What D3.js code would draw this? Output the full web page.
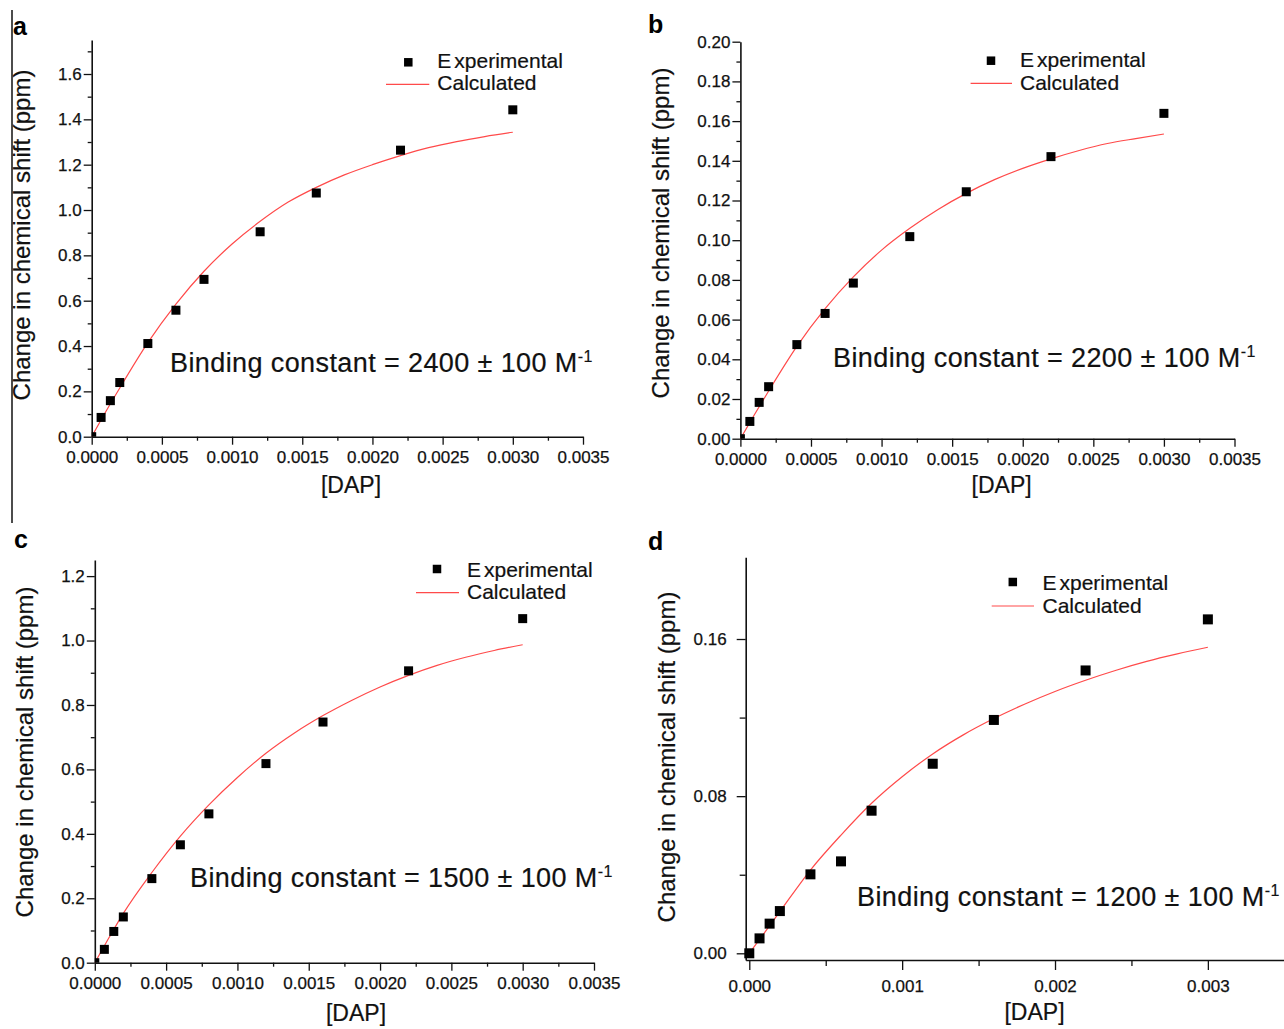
<!DOCTYPE html>
<html>
<head>
<meta charset="utf-8">
<script src="https://cdn.jsdelivr.net/npm/d3@7/dist/d3.min.js"></script>
<style>
  html, body { margin: 0; padding: 0; background: #fff; }
  svg { display: block; font-family: "Liberation Sans", Arial, Helvetica, sans-serif; }
</style>
</head>
<body>
<svg id="fig" width="1284" height="1029"></svg>
<script>
// ---------------- DATA ----------------
const panelLetters = ["a", "b", "c", "d"];
const bindingLabels = ["2400", "2200", "1500", "1200"];
const yTitle = "Change in chemical shift (ppm)";
const xTitle = "[DAP]";
const legendLabels = ["Experimental", "Calculated"];

// DAP concentrations of experimental points (M)
const dapExp = [0, 0.000067, 0.000133, 0.0002, 0.0004, 0.0006, 0.0008, 0.0012, 0.0016, 0.0022, 0.003];
// Experimental chemical shift changes (ppm)
const expA = [0, 0.085, 0.159, 0.239, 0.411, 0.558, 0.694, 0.904, 1.075, 1.264, 1.442];
const expB = [0, 0.0087, 0.0183, 0.0262, 0.0474, 0.0631, 0.0784, 0.1018, 0.1244, 0.1421, 0.1639];
const expC = [0, 0.0414, 0.097, 0.142, 0.261, 0.366, 0.462, 0.618, 0.747, 0.906, 1.068];
const expD = [0, 0.0076, 0.0151, 0.0215, 0.0402, 0.0468, 0.0726, 0.0965, 0.1188, 0.144, 0.170];

// Calculated curves
const dapCalc = [0, 0.0001, 0.0002, 0.0004, 0.0006, 0.0008, 0.001, 0.0012, 0.0014, 0.0016, 0.0018, 0.002, 0.0022, 0.0024, 0.0026, 0.0028, 0.003];
const calcA = [0, 0.11, 0.215, 0.415, 0.585, 0.73, 0.85, 0.95, 1.035, 1.1, 1.155, 1.2, 1.24, 1.275, 1.302, 1.324, 1.343];
const calcB = [0, 0.0122, 0.024, 0.0465, 0.0655, 0.0815, 0.095, 0.106, 0.1155, 0.1236, 0.1305, 0.1362, 0.141, 0.1452, 0.1487, 0.1512, 0.1535];
const calcC = [0, 0.078, 0.153, 0.28, 0.393, 0.49, 0.575, 0.65, 0.713, 0.767, 0.814, 0.856, 0.892, 0.923, 0.948, 0.969, 0.987];
const calcD = [0, 0.0105, 0.0212, 0.0424, 0.0602, 0.0764, 0.0899, 0.1015, 0.1112, 0.1195, 0.1268, 0.1333, 0.139, 0.1441, 0.1486, 0.1524, 0.1558];

// Tick values
const xMajorABC = [0, 0.0005, 0.001, 0.0015, 0.002, 0.0025, 0.003, 0.0035];
const xMinorABC = [0.00025, 0.00075, 0.00125, 0.00175, 0.00225, 0.00275, 0.00325];
const yMajorA = [0, 0.2, 0.4, 0.6, 0.8, 1.0, 1.2, 1.4, 1.6];
const yMinorA = [0.1, 0.3, 0.5, 0.7, 0.9, 1.1, 1.3, 1.5, 1.7];
const yMajorB = [0, 0.02, 0.04, 0.06, 0.08, 0.10, 0.12, 0.14, 0.16, 0.18, 0.20];
const yMinorB = [0.01, 0.03, 0.05, 0.07, 0.09, 0.11, 0.13, 0.15, 0.17, 0.19];
const yMajorC = [0, 0.2, 0.4, 0.6, 0.8, 1.0, 1.2];
const yMinorC = [0.1, 0.3, 0.5, 0.7, 0.9, 1.1];
const xMajorD = [0, 0.001, 0.002, 0.003];
const xMinorD = [0.0005, 0.0015, 0.0025];
const yMajorD = [0, 0.08, 0.16];
const yMinorD = [0.04, 0.12];

// ---------------- LAYOUT ----------------
const panels = [
  { letter: panelLetters[0], exp: expA, calc: calcA, kLabel: bindingLabels[0],
    xDom: [0, 0.0035], xRange: [91.7, 583], yDom: [0, 1.75], yRange: [436.7, 40],
    xMaj: xMajorABC, xMin: xMinorABC, yMaj: yMajorA, yMin: yMinorA, xFmt: ".4f", yFmt: ".1f",
    letterPos: [13, 35], yTitlePos: [30, 235], xTitlePos: [351, 493],
    legend: { sq: [408.3, 62.3], tx: 437.3, b1: 68.3, b2: 90, line: [386, 429.3, 84.3] },
    kPos: [170, 371.7], sq: 9, style: "origin" },
  { letter: panelLetters[1], exp: expB, calc: calcB, kLabel: bindingLabels[1],
    xDom: [0, 0.0035], xRange: [740.4, 1234.5], yDom: [0, 0.2], yRange: [438.7, 41.7],
    xMaj: xMajorABC, xMin: xMinorABC, yMaj: yMajorB, yMin: yMinorB, xFmt: ".4f", yFmt: ".2f",
    letterPos: [648, 33], yTitlePos: [669, 233], xTitlePos: [1001.6, 493],
    legend: { sq: [991, 60.7], tx: 1020, b1: 67, b2: 90, line: [970.6, 1012, 83.3] },
    kPos: [833, 366.7], sq: 9, style: "origin" },
  { letter: panelLetters[2], exp: expC, calc: calcC, kLabel: bindingLabels[2],
    xDom: [0, 0.0035], xRange: [94.8, 594], yDom: [0, 1.25], yRange: [962.7, 560],
    xMaj: xMajorABC, xMin: xMinorABC, yMaj: yMajorC, yMin: yMinorC, xFmt: ".4f", yFmt: ".1f",
    letterPos: [14, 548], yTitlePos: [33, 752], xTitlePos: [356, 1021],
    legend: { sq: [437, 569], tx: 467, b1: 576.7, b2: 599, line: [416, 459, 592.7] },
    kPos: [190, 886.7], sq: 9, style: "origin" },
  { letter: panelLetters[3], exp: expD, calc: calcD, kLabel: bindingLabels[3],
    xDom: [-0.0000235, 0.0035], xRange: [745.7, 1284.3], yDom: [-0.00341, 0.2016], yRange: [960, 557.3],
    xMaj: xMajorD, xMin: xMinorD, yMaj: yMajorD, yMin: yMinorD, xFmt: ".3f", yFmt: ".2f",
    letterPos: [648, 550], yTitlePos: [675, 757], xTitlePos: [1034.5, 1020],
    legend: { sq: [1012.8, 582], tx: 1042.5, b1: 590, b2: 612.7, line: [991.7, 1034, 606] },
    kPos: [857, 906], sq: 10, style: "d" }
];

const svg = d3.select("#fig");
const ink = "#111";
const red = "#ff4a4a";

// left frame line of panel a
svg.append("line").attr("x1", 12).attr("x2", 12).attr("y1", 10).attr("y2", 523)
  .attr("stroke", ink).attr("stroke-width", 1.5);

panels.forEach((p, i) => {
  const g = svg.append("g");
  const x = d3.scaleLinear().domain(p.xDom).range(p.xRange);
  const y = d3.scaleLinear().domain(p.yDom).range(p.yRange);
  const isD = p.style === "d";
  const tickFont = 17;
  const majLen = isD ? 10 : 8, minLen = isD ? 6 : 4;
  const yMajLen = isD ? 9 : 8, yMinLen = isD ? 6 : 4;
  const xAxisY = p.yRange[0];
  const yAxisX = p.xRange[0];

  // clip for data
  const clipId = "clip" + i;
  svg.append("clipPath").attr("id", clipId).append("rect")
    .attr("x", p.xRange[0]).attr("y", p.yRange[1])
    .attr("width", p.xRange[1] - p.xRange[0]).attr("height", p.yRange[0] - p.yRange[1]);

  const styleText = s => s.selectAll("text").attr("font-size", tickFont).attr("fill", ink)
      .attr("stroke", ink).attr("stroke-width", 0.25)
      .attr("font-family", "Liberation Sans, Arial, sans-serif");

  // X axis minor
  g.append("g").attr("transform", `translate(0,${xAxisY})`)
    .call(d3.axisBottom(x).tickValues(p.xMin).tickSize(minLen).tickSizeOuter(0).tickFormat(""))
    .call(s => s.select(".domain").remove())
    .call(s => s.selectAll("line").attr("stroke", ink).attr("stroke-width", 1.3));
  // X axis major
  g.append("g").attr("transform", `translate(0,${xAxisY})`)
    .call(d3.axisBottom(x).tickValues(p.xMaj).tickSize(majLen).tickSizeOuter(0)
      .tickPadding(isD ? 10 : 6).tickFormat(d3.format(p.xFmt)))
    .call(s => s.select(".domain").attr("stroke", ink).attr("stroke-width", 1.6))
    .call(s => s.selectAll("line").attr("stroke", ink).attr("stroke-width", 1.3))
    .call(styleText);

  // Y axis minor
  g.append("g").attr("transform", `translate(${yAxisX},0)`)
    .call(d3.axisLeft(y).tickValues(p.yMin).tickSize(yMinLen).tickSizeOuter(0).tickFormat(""))
    .call(s => s.select(".domain").remove())
    .call(s => s.selectAll("line").attr("stroke", ink).attr("stroke-width", 1.3));
  // Y axis major
  g.append("g").attr("transform", `translate(${yAxisX},0)`)
    .call(d3.axisLeft(y).tickValues(p.yMaj).tickSize(yMajLen).tickSizeOuter(0)
      .tickPadding(isD ? 10 : 2).tickFormat(d3.format(p.yFmt)))
    .call(s => s.select(".domain").attr("stroke", ink).attr("stroke-width", 1.6))
    .call(s => s.selectAll("line").attr("stroke", ink).attr("stroke-width", 1.3))
    .call(styleText);

  // data: calculated curve
  const calcPts = dapCalc.map((d, k) => [d, p.calc[k]]);
  const line = d3.line().x(d => x(d[0])).y(d => y(d[1])).curve(d3.curveMonotoneX);
  g.append("path").datum(calcPts).attr("d", line)
    .attr("fill", "none").attr("stroke", red).attr("stroke-width", 1.2)
    .attr("clip-path", `url(#${clipId})`);

  // experimental squares
  const expPts = dapExp.map((d, k) => [d, p.exp[k]]);
  g.append("g").attr("clip-path", isD ? null : `url(#${clipId})`)
    .selectAll("rect").data(expPts).join("rect")
    .attr("x", d => x(d[0]) - p.sq / 2).attr("y", d => y(d[1]) - p.sq / 2)
    .attr("width", p.sq).attr("height", p.sq).attr("fill", "#000");

  // panel letter
  g.append("text").attr("x", p.letterPos[0]).attr("y", p.letterPos[1])
    .attr("font-size", 25).attr("font-weight", "bold").attr("fill", "#000").text(p.letter);

  // y title
  g.append("text").attr("transform", `translate(${p.yTitlePos[0]},${p.yTitlePos[1]}) rotate(-90)`)
    .attr("text-anchor", "middle").attr("font-size", 24).attr("fill", ink)
    .attr("stroke", ink).attr("stroke-width", 0.2).text(yTitle);

  // x title
  g.append("text").attr("x", p.xTitlePos[0]).attr("y", p.xTitlePos[1])
    .attr("text-anchor", "middle").attr("font-size", 23).attr("fill", ink)
    .attr("stroke", ink).attr("stroke-width", 0.2).text(xTitle);

  // legend
  const L = p.legend;
  g.append("rect").attr("x", L.sq[0] - 4.25).attr("y", L.sq[1] - 4.25)
    .attr("width", 8.5).attr("height", 8.5).attr("fill", "#000");
  const t1 = g.append("text").attr("x", L.tx).attr("y", L.b1).attr("font-size", 21).attr("fill", ink)
    .attr("stroke", ink).attr("stroke-width", 0.2);
  t1.append("tspan").text(legendLabels[0].slice(0, 1));
  t1.append("tspan").attr("dx", 3).text(legendLabels[0].slice(1));
  g.append("line").attr("x1", L.line[0]).attr("x2", L.line[1]).attr("y1", L.line[2]).attr("y2", L.line[2])
    .attr("stroke", red).attr("stroke-width", 1.2);
  g.append("text").attr("x", L.tx).attr("y", L.b2).attr("font-size", 21).attr("fill", ink)
    .attr("stroke", ink).attr("stroke-width", 0.2).text(legendLabels[1]);

  // binding constant annotation
  const kt = g.append("text").attr("x", p.kPos[0]).attr("y", p.kPos[1])
    .attr("font-size", 27).attr("letter-spacing", 0.4).attr("fill", ink)
    .attr("stroke", ink).attr("stroke-width", 0.2);
  kt.append("tspan").text(`Binding constant = ${p.kLabel} \u00B1 100 M`);
  kt.append("tspan").attr("font-size", 16).attr("dy", -10).text("-1");
});
</script>
</body>
</html>
